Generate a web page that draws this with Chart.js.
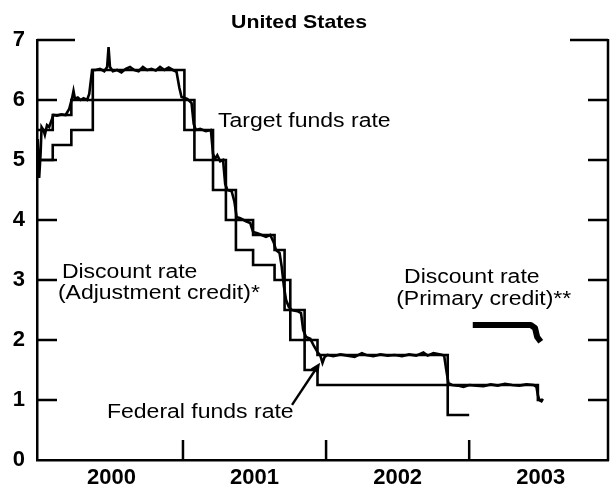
<!DOCTYPE html>
<html>
<head>
<meta charset="utf-8">
<script src="https://cdn.jsdelivr.net/npm/chart.js@4.4.1/dist/chart.umd.min.js"></script>
<style>
  html, body { margin: 0; padding: 0; background: #fff; }
  canvas { display: block; }
</style>
</head>
<body>
<canvas id="chart" width="612" height="487"></canvas>
<script>
// x values are fractional years
var yearTicks = [2000.5, 2001.5, 2002.5, 2003.5];
var yearLabels = ['2000', '2001', '2002', '2003'];
var yearBounds = [2001, 2002, 2003];
var rateTicks = [0, 1, 2, 3, 4, 5, 6, 7];

// Target federal funds rate (step changes)
var targetDates = [1999.98, 2000.09, 2000.22, 2000.37, 2001.01, 2001.08, 2001.21, 2001.30, 2001.37,
                   2001.49, 2001.64, 2001.71, 2001.75, 2001.85, 2001.94, 2002.85, 2003.48, 2003.515];
var targetRates = [5.5, 5.75, 6.0, 6.5, 6.0, 5.5, 5.0, 4.5, 4.0,
                   3.75, 3.5, 3.0, 2.5, 2.0, 1.75, 1.25, 1.0, 1.0];

// Effective federal funds rate
var effDates = [1999.985, 1999.995, 2000.005, 2000.012, 2000.025, 2000.035, 2000.05, 2000.065, 2000.08, 2000.095,
                2000.12, 2000.15, 2000.18, 2000.205, 2000.225, 2000.235, 2000.245, 2000.265, 2000.285, 2000.305,
                2000.33, 2000.345, 2000.365, 2000.39, 2000.42, 2000.45, 2000.47, 2000.48, 2000.49, 2000.51,
                2000.54, 2000.57, 2000.6, 2000.63, 2000.66, 2000.69, 2000.72, 2000.75, 2000.78, 2000.81,
                2000.84, 2000.87, 2000.9, 2000.93, 2000.955, 2000.975, 2000.99, 2001.03, 2001.06, 2001.075,
                2001.09, 2001.12, 2001.16, 2001.195, 2001.21, 2001.225, 2001.24, 2001.26, 2001.28, 2001.295,
                2001.31, 2001.34, 2001.36, 2001.375, 2001.40, 2001.44, 2001.47, 2001.49, 2001.52, 2001.55,
                2001.58, 2001.61, 2001.635, 2001.65, 2001.675, 2001.69, 2001.705, 2001.72, 2001.74, 2001.76,
                2001.80, 2001.825, 2001.84, 2001.86, 2001.89, 2001.915, 2001.94, 2001.96, 2001.975, 2001.99,
                2002.01, 2002.05, 2002.10, 2002.15, 2002.20, 2002.25, 2002.28, 2002.33, 2002.38, 2002.43,
                2002.48, 2002.53, 2002.58, 2002.63, 2002.68, 2002.71, 2002.75, 2002.80, 2002.825, 2002.84,
                2002.855, 2002.88, 2002.92, 2002.96, 2003.0, 2003.05, 2003.1, 2003.15, 2003.2, 2003.25,
                2003.3, 2003.35, 2003.4, 2003.45, 2003.47, 2003.48, 2003.49, 2003.505, 2003.515];
var effRates = [5.35, 4.70, 5.10, 5.55, 5.50, 5.42, 5.58, 5.55, 5.65, 5.75,
                5.74, 5.76, 5.75, 5.85, 6.03, 6.15, 6.02, 6.04, 6.00, 6.03,
                6.00, 6.10, 6.50, 6.50, 6.52, 6.48, 6.55, 6.88, 6.55, 6.48,
                6.50, 6.46, 6.52, 6.55, 6.50, 6.48, 6.55, 6.50, 6.52, 6.49,
                6.55, 6.50, 6.54, 6.50, 6.47, 6.20, 6.05, 6.02, 5.95, 5.60,
                5.50, 5.52, 5.48, 5.50, 5.10, 5.02, 5.08, 4.98, 5.00, 4.60,
                4.50, 4.48, 4.30, 4.05, 4.03, 3.98, 3.95, 3.80, 3.78, 3.75,
                3.72, 3.75, 3.62, 3.50, 3.45, 3.22, 2.90, 2.67, 2.55, 2.50,
                2.48, 2.45, 2.17, 2.05, 2.02, 1.90, 1.80, 1.74, 1.62, 1.72,
                1.75, 1.73, 1.76, 1.74, 1.72, 1.78, 1.75, 1.73, 1.76, 1.74,
                1.75, 1.73, 1.76, 1.74, 1.79, 1.74, 1.78, 1.76, 1.74, 1.50,
                1.28, 1.25, 1.24, 1.22, 1.25, 1.24, 1.23, 1.26, 1.24, 1.27,
                1.25, 1.24, 1.26, 1.25, 1.22, 1.08, 1.00, 0.98, 1.02];

// Discount rate, adjustment credit
var adjDates = [1999.98, 2000.09, 2000.22, 2000.37, 2001.01, 2001.08, 2001.21, 2001.30, 2001.37,
                2001.49, 2001.64, 2001.71, 2001.75, 2001.85, 2001.94, 2002.85, 2003.0];
var adjRates = [5.0, 5.25, 5.5, 6.0, 5.5, 5.0, 4.5, 4.0, 3.5,
                3.25, 3.0, 2.5, 2.0, 1.5, 1.25, 0.75, 0.75];

// Discount rate, primary credit
var primDates = [2003.025, 2003.43, 2003.46, 2003.475, 2003.50];
var primRates = [2.25, 2.25, 2.2, 2.05, 1.97];

function pts(xs, ys) {
    return xs.map(function(x, i) { return { x: x, y: ys[i] }; });
}

var FONT = '"Liberation Sans", Arial, Helvetica, sans-serif';

var framePlugin = {
    id: 'frame',
    afterDraw: function(chart) {
        var ctx = chart.ctx;
        var xs = chart.scales.x, ys = chart.scales.y;
        var a = chart.chartArea;
        ctx.save();
        ctx.strokeStyle = '#000';
        ctx.lineWidth = 2.5;
        ctx.lineCap = 'butt';
        ctx.beginPath();
        // right axis line
        ctx.moveTo(a.right, ys.getPixelForValue(7) - 1);
        ctx.lineTo(a.right, a.bottom + 1);
        // y tick marks, both sides
        rateTicks.forEach(function(v) {
            if (v === 0) return;
            var y = ys.getPixelForValue(v);
            var len = v === 7 ? 38 : 20;
            ctx.moveTo(a.left, y); ctx.lineTo(a.left + len, y);
            ctx.moveTo(a.right, y); ctx.lineTo(a.right - len, y);
        });
        // x tick marks at year boundaries
        yearBounds.forEach(function(v) {
            var x = xs.getPixelForValue(v);
            ctx.moveTo(x, a.bottom); ctx.lineTo(x, a.bottom - 20);
        });
        ctx.stroke();

        // title
        ctx.fillStyle = '#000';
        ctx.textBaseline = 'middle';
        ctx.textAlign = 'center';
        ctx.save();
        ctx.translate(299, 23);
        ctx.scale(1.12, 1);
        ctx.font = 'bold 19px ' + FONT;
        ctx.fillText('United States', 0, 0);
        ctx.restore();

        // annotations
        var notes = [
            ['Target funds rate', 2001.245, 5.65],
            ['Discount rate', 2000.154, 3.12],
            ['(Adjustment credit)*', 2000.126, 2.78],
            ['Federal funds rate', 2000.469, 0.8],
            ['Discount rate', 2002.545, 3.05],
            ['(Primary credit)**', 2002.49, 2.67]
        ];
        ctx.textAlign = 'left';
        notes.forEach(function(n) {
            ctx.save();
            ctx.translate(xs.getPixelForValue(n[1]), ys.getPixelForValue(n[2]));
            ctx.scale(1.15, 1);
            ctx.font = '20px ' + FONT;
            ctx.fillText(n[0], 0, 0);
            ctx.restore();
        });

        // arrow to federal funds rate
        var x1 = xs.getPixelForValue(2001.762), y1 = ys.getPixelForValue(0.92);
        var x2 = xs.getPixelForValue(2001.958), y2 = ys.getPixelForValue(1.62);
        var ang = Math.atan2(y2 - y1, x2 - x1);
        ctx.lineWidth = 2.4;
        ctx.beginPath();
        ctx.moveTo(x1, y1);
        ctx.lineTo(x2 - 6 * Math.cos(ang), y2 - 6 * Math.sin(ang));
        ctx.stroke();
        ctx.beginPath();
        ctx.moveTo(x2, y2);
        ctx.lineTo(x2 - 10 * Math.cos(ang) + 4.5 * Math.sin(ang), y2 - 10 * Math.sin(ang) - 4.5 * Math.cos(ang));
        ctx.lineTo(x2 - 10 * Math.cos(ang) - 4.5 * Math.sin(ang), y2 - 10 * Math.sin(ang) + 4.5 * Math.cos(ang));
        ctx.closePath();
        ctx.fill();
        ctx.restore();
    }
};

var bgPlugin = {
    id: 'bg',
    beforeDraw: function(chart) {
        var ctx = chart.ctx;
        ctx.save();
        ctx.fillStyle = '#fff';
        ctx.fillRect(0, 0, chart.width, chart.height);
        ctx.restore();
    }
};

var chart = new Chart(document.getElementById('chart').getContext('2d'), {
    type: 'line',
    data: {
        datasets: [
            { label: 'Target funds rate', data: pts(targetDates, targetRates), stepped: true,
              borderColor: '#000', borderWidth: 2.6 },
            { label: 'Federal funds rate', data: pts(effDates, effRates),
              borderColor: '#000', borderWidth: 2.6 },
            { label: 'Discount rate (Adjustment credit)', data: pts(adjDates, adjRates), stepped: true,
              borderColor: '#000', borderWidth: 2.6 },
            { label: 'Discount rate (Primary credit)', data: pts(primDates, primRates),
              borderColor: '#000', borderWidth: 6, borderJoinStyle: 'round' }
        ]
    },
    options: {
        responsive: false,
        animation: false,
        devicePixelRatio: 1,
        layout: { padding: { top: 40, right: 4, left: 0, bottom: 0 } },
        elements: { point: { radius: 0 }, line: { tension: 0, fill: false } },
        plugins: { legend: { display: false }, tooltip: { enabled: false }, title: { display: false } },
        scales: {
            x: {
                type: 'linear',
                min: 1999.98,
                max: 2003.97,
                grid: { display: false, drawTicks: false },
                border: { display: true, color: '#000', width: 2.5 },
                afterBuildTicks: function(scale) {
                    scale.ticks = yearTicks.map(function(v) { return { value: v }; });
                },
                afterFit: function(scale) { scale.height = 27; },
                ticks: {
                    autoSkip: false,
                    maxRotation: 0,
                    padding: 5,
                    color: '#000',
                    font: { family: FONT, size: 22, weight: 'bold' },
                    callback: function(value, index) { return yearLabels[index]; }
                }
            },
            y: {
                min: 0,
                max: 7,
                grid: { display: false, drawTicks: false },
                border: { display: true, color: '#000', width: 2.5 },
                afterFit: function(scale) { scale.width = 37; },
                ticks: {
                    stepSize: 1,
                    padding: 12,
                    color: '#000',
                    font: { family: FONT, size: 22, weight: 'bold' }
                }
            }
        }
    },
    plugins: [bgPlugin, framePlugin]
});
</script>
</body>
</html>
